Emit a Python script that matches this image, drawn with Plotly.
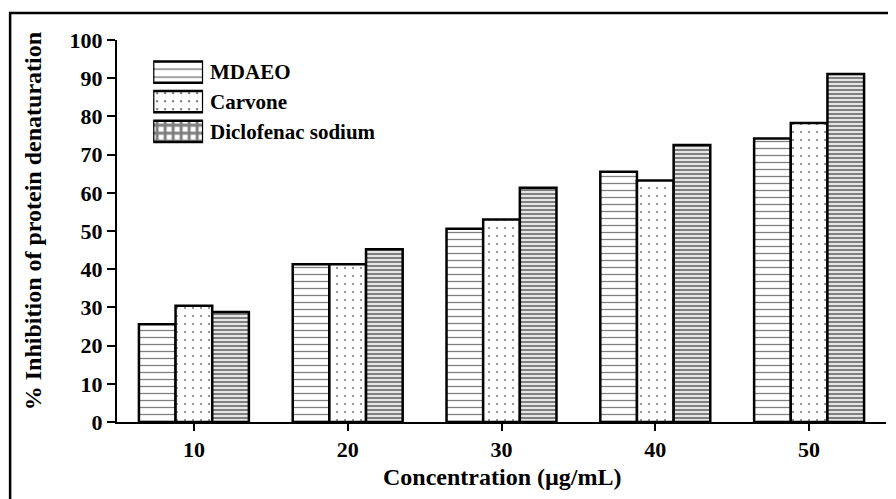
import plotly.graph_objects as go

categories = ["10", "20", "30", "40", "50"]
mdaeo = [25.6, 41.3, 50.6, 65.5, 74.2]
carvone = [30.4, 41.3, 53.0, 63.2, 78.3]
diclofenac = [28.8, 45.2, 61.3, 72.5, 91.1]
series_names = ["MDAEO", "Carvone", "Diclofenac sodium"]
y_ticks = [0, 10, 20, 30, 40, 50, 60, 70, 80, 90, 100]

FONT = "Liberation Serif"
patterns = [
    dict(shape="-", size=7, solidity=0.18, fgcolor="black", bgcolor="white"),
    dict(shape=".", size=8, solidity=0.06, fgcolor="black", bgcolor="white"),
    dict(shape="-", size=4, solidity=0.6, fgcolor="black", bgcolor="white"),
]

fig = go.Figure()
for name, vals, pat in zip(series_names, [mdaeo, carvone, diclofenac], patterns):
    fig.add_trace(go.Bar(
        x=categories, y=vals, name=name,
        marker=dict(color="white", pattern=pat, line=dict(color="black", width=2.5)),
        showlegend=False,
    ))

# custom legend swatches drawn as a tiny bar chart on overlay axes
fig.add_trace(go.Bar(
    x=[1, 1, 1], y=series_names, orientation="h",
    xaxis="x2", yaxis="y2", showlegend=False, hoverinfo="skip",
    marker=dict(
        color="white",
        line=dict(color="black", width=2.5),
        pattern=dict(
            shape=["-", ".", "+"],
            size=[8, 8, 8],
            solidity=[0.18, 0.08, 0.6],
            fgcolor="black", bgcolor="white",
        ),
    ),
))

legend_y = [0.916, 0.838, 0.760]
annotations = []
for name, ly in zip(series_names, legend_y):
    annotations.append(dict(
        x=0.118, y=ly, xref="paper", yref="paper", text=name, showarrow=False,
        xanchor="left", yanchor="middle",
        font=dict(family=FONT, size=21, color="black", weight="bold"),
    ))
annotations.append(dict(
    x=0.5, y=-0.145, xref="paper", yref="paper", text="Concentration (µg/mL)",
    showarrow=False, xanchor="center", yanchor="middle",
    font=dict(family=FONT, size=24, color="black", weight="bold"),
))
annotations.append(dict(
    x=-0.109, y=0.526, xref="paper", yref="paper",
    text="% Inhibition of protein denaturation", textangle=-90,
    showarrow=False, xanchor="center", yanchor="middle",
    font=dict(family=FONT, size=24, color="black", weight="bold"),
))

# the page body has an 8px default margin, so the figure is sized to fill the rest
fig.update_layout(
    width=888, height=491,
    margin=dict(l=109, r=10, t=32, b=77),
    paper_bgcolor="white", plot_bgcolor="white",
    barmode="group", bargap=0.285, bargroupgap=0,
    annotations=annotations,
    xaxis=dict(
        type="category", range=[-0.5, 4.5],
        showline=True, linecolor="black", linewidth=2,
        ticks="outside", ticklen=7, tickwidth=2, tickcolor="black",
        tickfont=dict(family=FONT, size=22, color="black", weight="bold"),
        showgrid=False, zeroline=False,
    ),
    yaxis=dict(
        range=[0, 100], tickvals=y_ticks,
        showline=True, linecolor="black", linewidth=2,
        ticks="outside", ticklen=8, tickwidth=2, tickcolor="black",
        tickfont=dict(family=FONT, size=22, color="black", weight="bold"),
        showgrid=False, zeroline=False,
    ),
    xaxis2=dict(domain=[0.047, 0.112], range=[0, 1], visible=False, fixedrange=True),
    yaxis2=dict(domain=[0.722, 0.955], visible=False, autorange="reversed",
                type="category", fixedrange=True),
    shapes=[dict(
        type="rect", xref="paper", yref="paper",
        x0=-0.139, x1=1.05, y0=-0.25, y1=1.071,
        line=dict(color="black", width=2.5), fillcolor="rgba(0,0,0,0)", layer="above",
    )],
)

fig.write_html("out.html")
